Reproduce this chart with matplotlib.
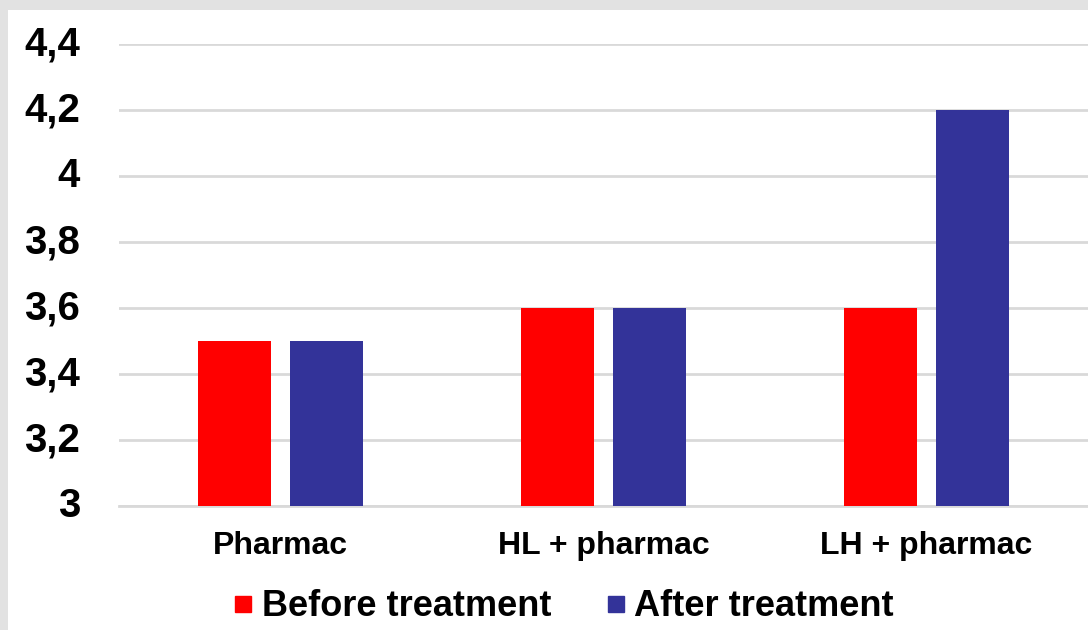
import numpy as np
import matplotlib.pyplot as plt
import matplotlib.transforms as mtransforms
from matplotlib.lines import Line2D
from matplotlib.patches import Rectangle
from matplotlib.ticker import FuncFormatter

groups = ['Pharmac', 'HL + pharmac', 'LH + pharmac']
before = [3.5, 3.6, 3.6]
after = [3.5, 3.6, 4.2]
yticks = [3, 3.2, 3.4, 3.6, 3.8, 4, 4.2, 4.4]

red = '#ff0000'
blue = '#333399'

plt.rcParams['font.family'] = ['Liberation Sans', 'DejaVu Sans']
plt.rcParams['font.weight'] = 'bold'

fig = plt.figure(figsize=(10.88, 6.3), dpi=100, facecolor='#e2e2e2')
# white panel inside the grey frame
fig.patches.append(Rectangle((8 / 1088, 0), 1, 1 - 10 / 630, transform=fig.transFigure,
                             facecolor='white', edgecolor='none', zorder=-5))

ax = fig.add_axes([119 / 1088, 1 - 506 / 630, 1 - 119 / 1088, 462 / 630])
ax.set_facecolor('none')

x = np.arange(len(groups))
w = 0.223
off = 0.1424
ax.bar(x - off, before, w, color=red, zorder=3, label='Before treatment')
ax.bar(x + off, after, w, color=blue, zorder=3, label='After treatment')

ax.set_xlim(-0.5, 2.5)
ax.set_ylim(3, 4.4)
ax.set_yticks(yticks)
ax.yaxis.set_major_formatter(FuncFormatter(lambda v, p: ('%g' % round(v, 1)).replace('.', ',')))
ax.set_xticks(x)
ax.set_xticklabels(groups)
ax.tick_params(axis='y', length=0, pad=28, labelsize=29)
ax.tick_params(axis='x', length=0, pad=18, labelsize=23)
lift = mtransforms.ScaledTranslation(0, 4 / 100, fig.dpi_scale_trans)
for t in ax.get_yticklabels():
    t.set_fontweight('bold')
    t.set_transform(t.get_transform() + lift)
for t in ax.get_xticklabels():
    t.set_fontweight('bold')

ax.grid(axis='y', color='#d9d9d9', linewidth=2, zorder=0)
for s in ['top', 'right', 'left']:
    ax.spines[s].set_visible(False)
ax.spines['bottom'].set_color('#d9d9d9')
ax.spines['bottom'].set_linewidth(2)

handles = [Line2D([], [], marker='s', linestyle='none', markersize=12, color=red),
           Line2D([], [], marker='s', linestyle='none', markersize=12, color=blue)]
fig.legend(handles, ['Before treatment', 'After treatment'], loc='center',
           bbox_to_anchor=(565 / 1088, 1 - 607 / 630), ncol=2, frameon=False,
           handlelength=0.4, handletextpad=0.3, columnspacing=1.6,
           prop={'size': 26, 'weight': 'bold'})

fig.savefig('out.png', dpi=100, facecolor=fig.get_facecolor())
